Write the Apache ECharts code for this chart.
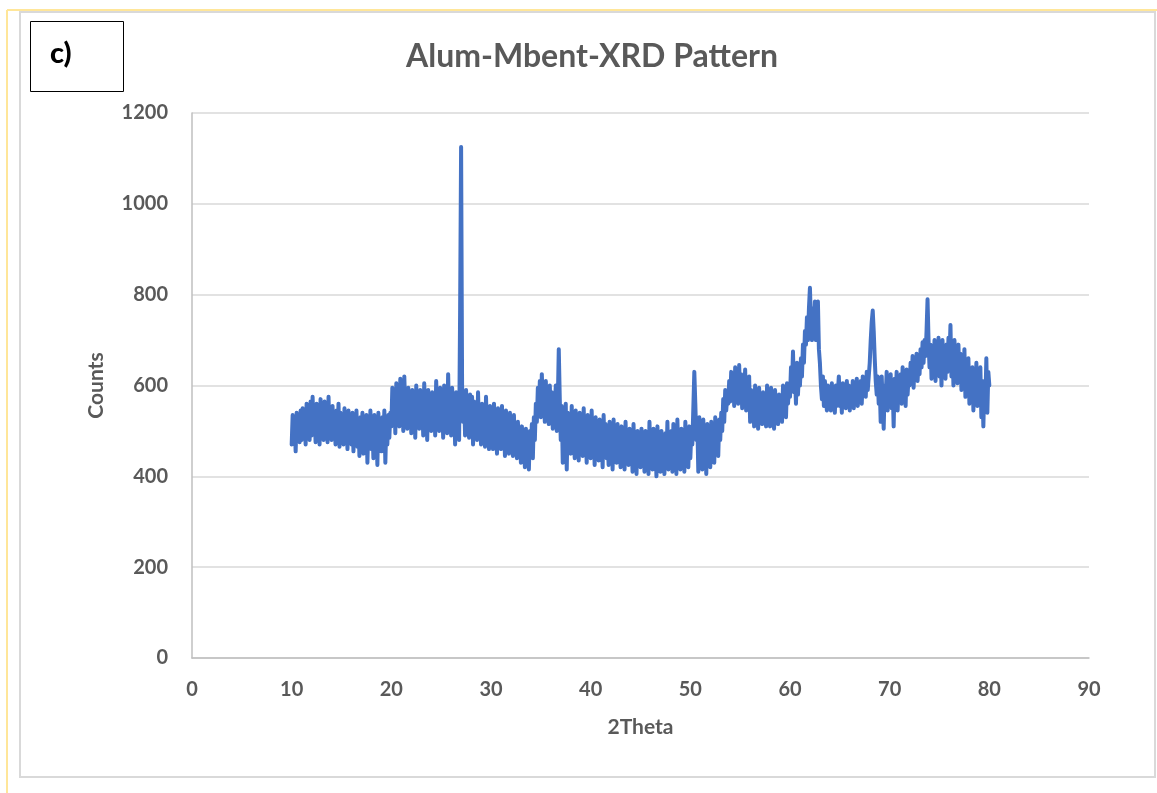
<!DOCTYPE html>
<html>
<head>
<meta charset="utf-8">
<script src="https://cdn.jsdelivr.net/npm/echarts@6/dist/echarts.min.js"></script>
<style>
  html, body { margin: 0; padding: 0; background: #ffffff; }
  #chart { width: 1157px; height: 793px; }
</style>
</head>
<body>
<div id="chart"></div>
<script>
// Scan settings: 2Theta from 10 to 80 degrees in 0.1 degree steps
const thetaStart = 10;
const thetaStep = 0.1;

// Measured counts, one row per degree of 2Theta (x.0 ... x.9)
const counts = [
  470,535,490,520,455,540,485,530,475,545,   // 10
  480,550,500,535,470,560,495,540,480,565,   // 11
  490,575,505,545,475,560,500,550,470,570,   // 12
  495,540,480,565,505,545,475,575,490,550,   // 13
  480,555,495,530,470,545,490,560,465,540,   // 14
  485,530,470,550,495,525,460,545,480,535,   // 15
  470,540,455,525,480,545,465,520,445,530,   // 16
  475,540,450,525,470,535,430,520,465,545,   // 17
  460,525,440,535,475,515,425,540,470,520,   // 18
  455,530,480,545,430,520,470,535,485,540,   // 19
  510,595,525,580,495,605,540,575,510,615,   // 20
  530,585,500,620,545,570,505,595,520,580,   // 21
  495,590,525,565,485,600,530,575,505,590,   // 22
  520,570,490,605,535,560,480,590,515,575,   // 23
  500,585,525,560,490,610,535,570,500,595,   // 24
  525,575,485,600,540,565,495,625,520,580,   // 25
  490,595,510,560,470,585,520,575,480,760,   // 26
  1125,600,520,575,490,590,505,560,485,580,  // 27
  500,575,470,565,510,550,480,585,495,545,   // 28
  470,560,505,540,465,575,490,535,460,555,   // 29
  485,545,460,560,490,530,450,550,475,540,   // 30
  460,555,485,525,445,545,470,530,450,540,   // 31
  470,525,445,535,460,510,440,520,455,505,   // 32
  430,510,450,495,420,505,445,490,415,500,   // 33
  460,515,440,530,480,560,520,595,540,610,   // 34
  530,625,555,590,520,610,545,580,515,600,   // 35
  530,585,505,570,545,600,500,560,680,570,   // 36
  480,555,430,545,465,560,415,540,470,525,   // 37
  450,555,475,520,440,545,460,515,435,540,   // 38
  470,525,445,550,460,510,430,535,465,520,   // 39
  440,545,470,505,425,530,455,510,435,525,   // 40
  460,500,420,535,455,515,440,495,425,520,   // 41
  450,505,415,525,460,490,430,515,445,500,   // 42
  420,510,450,485,415,520,440,495,425,505,   // 43
  445,490,410,515,435,480,405,500,440,495,   // 44
  420,505,445,475,410,500,430,490,405,520,   // 45
  440,495,415,505,435,480,400,510,425,490,   // 46
  410,500,440,475,405,495,430,520,415,485,   // 47
  440,500,410,515,435,480,405,525,445,490,   // 48
  415,505,440,480,410,520,430,495,420,510,   // 49
  440,500,470,550,630,560,480,520,410,530,   // 50
  435,500,415,525,445,490,405,515,440,500,   // 51
  420,520,450,495,430,530,465,510,445,525,   // 52
  480,540,500,570,520,590,545,575,560,610,   // 53
  565,630,580,620,555,640,585,615,560,645,   // 54
  575,625,550,610,580,635,545,600,565,620,   // 55
  520,590,545,575,510,600,535,580,505,595,   // 56
  530,570,515,585,540,565,510,600,530,580,   // 57
  510,595,535,570,505,590,540,565,515,580,   // 58
  540,575,520,600,555,585,530,605,560,595,   // 59
  575,640,600,675,585,620,560,650,580,630,   // 60
  600,660,620,690,650,720,690,750,700,770,   // 61
  815,740,700,770,720,785,700,760,785,680,   // 62
  650,600,570,620,555,610,580,545,600,560,   // 63
  590,545,605,560,575,540,600,555,585,620,   // 64
  555,595,540,605,565,585,550,610,570,600,   // 65
  545,590,560,610,550,595,565,615,555,590,   // 66
  570,610,560,620,580,600,575,630,590,620,   // 67
  650,700,740,765,720,660,610,580,620,560,   // 68
  600,520,620,560,505,600,575,630,545,610,   // 69
  580,625,550,600,510,615,570,630,545,610,   // 70
  575,625,560,640,590,615,555,635,580,620,   // 71
  600,650,610,665,595,645,620,670,610,655,   // 72
  625,680,640,695,650,700,665,720,790,700,   // 73
  640,690,615,680,640,700,610,690,650,705,   // 74
  620,685,600,700,640,675,615,690,630,705,   // 75
  660,733,620,690,600,700,640,675,605,690,   // 76
  610,670,590,660,620,680,575,650,600,660,   // 77
  560,630,580,640,545,620,570,650,555,615,   // 78
  580,640,530,610,510,600,560,660,540,630,   // 79
  600                                        // 80.0
];

// Axis ranges and tick spacing
const xAxisMin = 0, xAxisMax = 90, xAxisInterval = 10;
const yAxisMin = 0, yAxisMax = 1200, yAxisInterval = 200;

const points = counts.map((c, i) => [+(thetaStart + i * thetaStep).toFixed(1), c]);

const labelGray = '#595959';
const fontFamily = 'Lato, "Open Sans", sans-serif';

const chart = echarts.init(document.getElementById('chart'), null, { renderer: 'canvas' });

chart.setOption({
  backgroundColor: '#ffffff',
  animation: false,
  title: {
    text: 'Alum-Mbent-XRD Pattern',
    left: 587,
    top: 36,
    textAlign: 'center',
    textStyle: { color: labelGray, fontSize: 32, fontWeight: 'bold', fontFamily: fontFamily }
  },
  grid: { left: 192, right: 68, top: 113, bottom: 135 },
  xAxis: {
    type: 'value',
    min: xAxisMin, max: xAxisMax, interval: xAxisInterval,
    name: '2Theta',
    nameLocation: 'middle',
    nameGap: 59,
    nameTextStyle: { color: labelGray, fontSize: 21, fontWeight: 'bold', fontFamily: fontFamily },
    axisLine: { show: true, lineStyle: { color: '#bfbfbf', width: 1.5 } },
    axisTick: { show: false },
    axisLabel: { color: labelGray, fontSize: 20, fontWeight: 'bold', fontFamily: fontFamily, margin: 22 },
    splitLine: { show: false }
  },
  yAxis: {
    type: 'value',
    min: yAxisMin, max: yAxisMax, interval: yAxisInterval,
    name: 'Counts',
    nameLocation: 'middle',
    nameGap: 85,
    nameRotate: 90,
    nameTextStyle: { color: labelGray, fontSize: 21, fontWeight: 'bold', fontFamily: fontFamily },
    axisLine: { show: true, lineStyle: { color: '#bfbfbf', width: 1.5 } },
    axisTick: { show: false },
    axisLabel: {
      color: labelGray, fontSize: 20, fontWeight: 'bold', fontFamily: fontFamily, margin: 24,
      formatter: (v) => String(v)
    },
    splitLine: { show: true, lineStyle: { color: '#d9d9d9', width: 1.5 } }
  },
  series: [{
    type: 'line',
    data: points,
    showSymbol: false,
    symbol: 'none',
    lineStyle: { color: '#4472C4', width: 4, join: 'round', cap: 'round' },
    z: 3
  }],
  graphic: [
    // outer sheet edges
    { type: 'line', shape: { x1: 7, y1: 10, x2: 1157, y2: 10 }, style: { stroke: '#ffe699', lineWidth: 2 }, silent: true },
    { type: 'line', shape: { x1: 7, y1: 10, x2: 7, y2: 793 }, style: { stroke: '#ffe699', lineWidth: 2 }, silent: true },
    // chart frame
    { type: 'rect', shape: { x: 20, y: 12, width: 1135, height: 765 }, style: { fill: 'none', stroke: '#d9d9d9', lineWidth: 2 }, silent: true },
    // panel tag box
    { type: 'rect', shape: { x: 30.5, y: 21.5, width: 93, height: 70 }, style: { fill: '#ffffff', stroke: '#000000', lineWidth: 1 }, silent: true },
    { type: 'text', x: 50, y: 54, style: { text: 'c)', fill: '#000000', font: '900 29px Lato, "Open Sans", sans-serif', textVerticalAlign: 'middle' }, silent: true }
  ]
});
</script>
</body>
</html>
